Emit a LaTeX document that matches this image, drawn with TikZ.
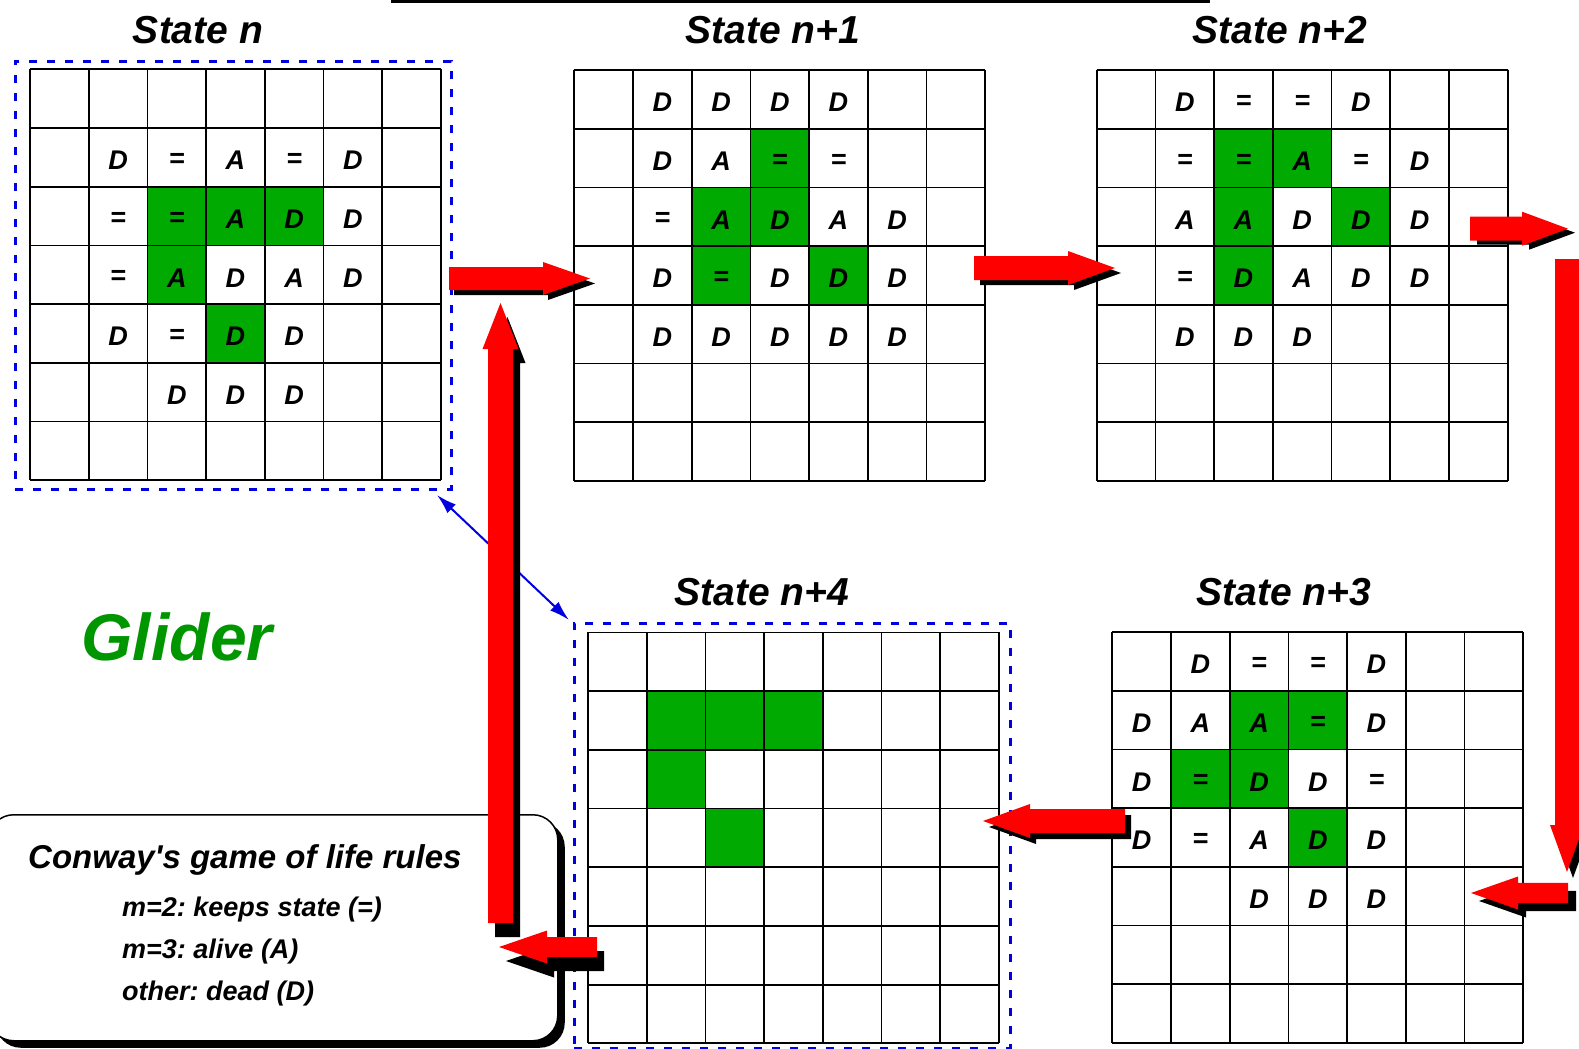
\documentclass[tikz,border=0pt]{standalone}
\usepackage{fontspec}
\setmainfont{Liberation Sans}
\frenchspacing
\usetikzlibrary{arrows.meta,shadows,calc}
\definecolor{arrowred}{RGB}{255,0,0}
\definecolor{cellgreen}{RGB}{0,170,0}
\definecolor{glidergreen}{RGB}{0,150,0}
\definecolor{boxblue}{RGB}{0,0,225}
\newcommand{\cellsz}{58.7}
\tikzset{
  gridline/.style={line width=1.8pt,black},
  cellletter/.style={inner sep=0pt,font=\bfseries\itshape\fontsize{27}{27}\selectfont},
  statetitle/.style={inner sep=0pt,anchor=base,font=\bfseries\itshape\fontsize{39}{39}\selectfont},
  dashbox/.style={draw=boxblue,line width=2.7pt,dash pattern=on 8pt off 10pt,inner sep=0pt,anchor=north west},
  rulesbox/.style={draw=black,line width=1.5pt,fill=white,rounded corners=25pt,inner sep=0pt,anchor=north west,
     drop shadow={shadow xshift=7pt,shadow yshift=-7pt,opacity=1,fill=black}},
  ruletext/.style={inner sep=0pt,anchor=base west,font=\bfseries\itshape\fontsize{27}{27}\selectfont},
}
% polygon of a block arrow, horizontal
\newcommand{\HPoly}[7]{% xtail, xtip, yc, half shaft, half head, head length, colour
  \pgfmathsetmacro\xb{#2-sign(#2-#1)*#6}%
  \fill[#7] (#1,#3-#4) -- (\xb,#3-#4) -- (\xb,#3-#5) -- (#2,#3) -- (\xb,#3+#5) -- (\xb,#3+#4) -- (#1,#3+#4) -- cycle;}
\newcommand{\VPoly}[7]{% ytail, ytip, xc, half shaft, half head, head length, colour
  \pgfmathsetmacro\yb{#2-sign(#2-#1)*#6}%
  \fill[#7] (#3-#4,#1) -- (#3-#4,\yb) -- (#3-#5,\yb) -- (#3,#2) -- (#3+#5,\yb) -- (#3+#4,\yb) -- (#3+#4,#1) -- cycle;}
\newcommand{\HArrow}[8]{% ... , shadow dx, shadow dy
  \begin{scope}[shift={(#7,#8)}]\HPoly{#1}{#2}{#3}{#4}{#5}{#6}{black}\end{scope}
  \HPoly{#1}{#2}{#3}{#4}{#5}{#6}{arrowred}}
\newcommand{\VArrow}[8]{%
  \begin{scope}[shift={(#7,#8)}]\VPoly{#1}{#2}{#3}{#4}{#5}{#6}{black}\end{scope}
  \VPoly{#1}{#2}{#3}{#4}{#5}{#6}{arrowred}}
% grid: x0, y0, green cells, letters, name
\newcommand{\StateGrid}[5]{%
  \begin{scope}[shift={(#1,#2)}]
    \coordinate (#5) at (0,0);
    \foreach \gr/\gc in {#3} \fill[cellgreen] (\gc*\cellsz,\gr*\cellsz) rectangle ++(\cellsz,\cellsz);
    \foreach \gi in {0,...,7} {
      \draw[gridline] (\gi*\cellsz,0) -- (\gi*\cellsz,7*\cellsz);
      \draw[gridline] (0,\gi*\cellsz) -- (7*\cellsz,\gi*\cellsz);}
    \foreach \gr/\gc/\gt in {#4} \node[cellletter] (#5-\gr-\gc) at (\gc*\cellsz+\cellsz/2,\gr*\cellsz+\cellsz/2+3) {\gt};
  \end{scope}}
\begin{document}
\begin{tikzpicture}[x=1pt,y=-1pt]
\useasboundingbox (0,0) rectangle (1579,1049);
\fill[white] (0,0) rectangle (1579,1049);
% top rule
\coordinate (topL) at (391,1.5); \coordinate (topR) at (1210,1.5);
\draw[line width=3pt] (topL) -- (topR);
% titles
\node[statetitle] (t0) at (198,43.3) {State n};
\node[statetitle] (t1) at (773,43.3) {State n+1};
\node[statetitle] (t2) at (1280,43.3) {State n+2};
\node[statetitle] (t3) at (1284,605) {State n+3};
\node[statetitle] (t4) at (762,605) {State n+4};
% grids
\StateGrid{30}{69.3}{2/2,2/3,2/4,3/2,4/3}{1/1/D,1/2/=,1/3/A,1/4/=,1/5/D,2/1/=,2/2/=,2/3/A,2/4/D,2/5/D,3/1/=,3/2/A,3/3/D,3/4/A,3/5/D,4/1/D,4/2/=,4/3/D,4/4/D,5/2/D,5/3/D,5/4/D}{g0}
\StateGrid{574.3}{70}{1/3,2/2,2/3,3/2,3/4}{0/1/D,0/2/D,0/3/D,0/4/D,1/1/D,1/2/A,1/3/=,1/4/=,2/1/=,2/2/A,2/3/D,2/4/A,2/5/D,3/1/D,3/2/=,3/3/D,3/4/D,3/5/D,4/1/D,4/2/D,4/3/D,4/4/D,4/5/D}{g1}
\StateGrid{1096.7}{70}{1/2,1/3,2/2,2/4,3/2}{0/1/D,0/2/=,0/3/=,0/4/D,1/1/=,1/2/=,1/3/A,1/4/=,1/5/D,2/1/A,2/2/A,2/3/D,2/4/D,2/5/D,3/1/=,3/2/D,3/3/A,3/4/D,3/5/D,4/1/D,4/2/D,4/3/D}{g2}
\StateGrid{1112.3}{632}{1/2,1/3,2/1,2/2,3/3}{0/1/D,0/2/=,0/3/=,0/4/D,1/0/D,1/1/A,1/2/A,1/3/=,1/4/D,2/0/D,2/1/=,2/2/D,2/3/D,2/4/=,3/0/D,3/1/=,3/2/A,3/3/D,3/4/D,4/2/D,4/3/D,4/4/D}{g3}
\begin{scope}[shift={(588,632.4)}]
  \coordinate (g4) at (0,0);
  \foreach \gr/\gc in {1/1,1/2,1/3,2/1,3/2} \fill[cellgreen] (\gc*\cellsz,\gr*\cellsz) rectangle ++(\cellsz,\cellsz);
  \foreach \gi in {0,...,7} {
    \draw[gridline] (\gi*\cellsz,0) -- (\gi*\cellsz,7*\cellsz);
    \draw[gridline] (0,\gi*\cellsz) -- (7*\cellsz,\gi*\cellsz);}
\end{scope}
% dashed frames
\node[dashbox,minimum width=436pt,minimum height=428pt] (box0) at (14,60) {};
\node[dashbox,minimum width=436pt,minimum height=425pt] (box4) at (573,622) {};
% blue link
\coordinate (bl1) at (437,495); \coordinate (bl2) at (569,620);
\draw[boxblue,line width=2pt,{Latex[length=20pt,width=12pt]}-{Latex[length=20pt,width=12pt]}] (bl1) -- (bl2);
% Glider
\node[inner sep=0pt,anchor=base,text=glidergreen,font=\bfseries\itshape\fontsize{66}{66}\selectfont] (glider) at (177,660) {Glider};
% rules box
\node[rulesbox,minimum width=569pt,minimum height=226pt] (rules) at (-12,814) {};
\node[inner sep=0pt,anchor=base west,font=\bfseries\itshape\fontsize{33}{33}\selectfont] (rtitle) at (28,868) {Conway\textquotesingle s game of life rules};
\node[ruletext] (r1) at (122,916) {m=2: keeps state (=)};
\node[ruletext] (r2) at (122,958) {m=3: alive (A)};
\node[ruletext] (r3) at (122,1000) {other: dead (D)};
% red block arrows
\HArrow{449}{590}{278.5}{11.5}{16.5}{47}{5}{5}
\HArrow{974}{1115}{268}{12}{17}{47}{6}{5}
\HArrow{1470}{1568}{228.7}{12}{17}{46}{7}{4}
\VArrow{259}{872}{1567}{12}{17}{47}{6}{6}
\HArrow{1568}{1471}{893}{10.2}{16.5}{47}{8}{8}
\HArrow{1125}{983}{821}{12}{17}{47}{6}{6}
\HArrow{597}{499}{947}{10}{16.5}{48}{7}{14}
\VArrow{923}{303}{500.5}{12.5}{18}{46}{7}{14}
\end{tikzpicture}
\end{document}
